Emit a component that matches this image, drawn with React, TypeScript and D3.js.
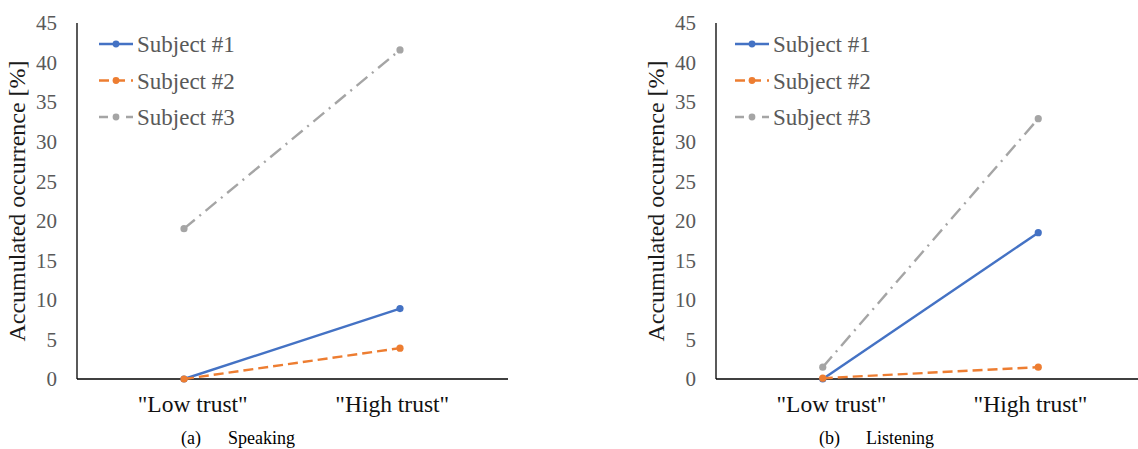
import React from "react";
import { scaleLinear, scalePoint, line } from "d3";

const categories = ['"Low trust"', '"High trust"'];
const seriesNames = ["Subject #1", "Subject #2", "Subject #3"];
const yTicks = [0, 5, 10, 15, 20, 25, 30, 35, 40, 45];

// accumulated occurrence [%], low trust / high trust
const speakingS1 = [0, 8.9];
const speakingS2 = [0, 3.9];
const speakingS3 = [19.0, 41.6];

const listeningS1 = [0, 18.5];
const listeningS2 = [0.1, 1.5];
const listeningS3 = [1.5, 32.9];

const colors = ["#4472C4", "#ED7D31", "#A5A5A5"];
const dashes = ["none", "10,5", "14,6,2,6"];

const txt = { fontFamily: "Liberation Serif" };

const Panel = ({ axisX, xEnd, series, legendX, caption, captionX }) => {
  const y = scaleLinear().domain([0, 45]).range([379, 23]);
  const x = scalePoint().domain(categories).range([axisX - 1, xEnd]).padding(0.5);
  // category labels sit a little closer together than the markers
  const xLabel = scalePoint().domain(categories).range([axisX, xEnd]).padding(0.58);

  const lineGen = line()
    .x((d, i) => x(categories[i]))
    .y((d) => y(d));

  return (
    <g>
      {/* y title */}
      <text
        style={txt}
        transform={`translate(${axisX - 52},${201}) rotate(-90)`}
        textAnchor="middle"
        fontSize={24}
        fill="#1a1a1a"
      >
        Accumulated occurrence [%]
      </text>

      {yTicks.map((t) => (
        <text
          key={t}
          style={txt}
          x={axisX - 20}
          y={y(t)}
          dy="0.35em"
          textAnchor="end"
          fontSize={21}
          fill="#595959"
        >
          {t}
        </text>
      ))}

      <line x1={axisX} x2={axisX} y1={23} y2={379} stroke="#000" strokeWidth={1.3} />
      <line x1={axisX} x2={xEnd} y1={379} y2={379} stroke="#000" strokeWidth={1.3} />

      {categories.map((c) => (
        <text key={c} style={txt} x={xLabel(c)} y={412} textAnchor="middle" fontSize={23.5} fill="#111">
          {c}
        </text>
      ))}

      {series.map((vals, i) => (
        <g key={i}>
          <path
            d={lineGen(vals)}
            fill="none"
            stroke={colors[i]}
            strokeWidth={2.4}
            strokeDasharray={dashes[i]}
          />
          {vals.map((v, j) => (
            <circle key={j} cx={x(categories[j])} cy={y(v)} r={3.6} fill={colors[i]} />
          ))}
        </g>
      ))}

      {seriesNames.map((name, i) => {
        const ly = 44 + i * 36.5;
        return (
          <g key={name}>
            <line
              x1={legendX}
              x2={legendX + 34}
              y1={ly}
              y2={ly}
              stroke={colors[i]}
              strokeWidth={2.4}
              strokeDasharray={i === 0 ? "none" : i === 1 ? "10,6" : "9,8,2,8"}
            />
            <circle cx={legendX + 17} cy={ly} r={3.4} fill={colors[i]} />
            <text style={txt} x={legendX + 38} y={ly} dy="0.35em" fontSize={23} fill="#595959">
              {name}
            </text>
          </g>
        );
      })}

      <text style={txt} x={captionX} y={444} fontSize={18} fill="#000">
        {caption[0]}
      </text>
      <text style={txt} x={captionX + 47} y={444} fontSize={18} fill="#000">
        {caption[1]}
      </text>
    </g>
  );
};

export default function App() {
  return (
    <svg
      width={1138}
      height={449}
      style={{ position: "absolute", left: 0, top: 0, background: "#fff" }}
    >
      <Panel
        axisX={77}
        xEnd={508}
        series={[speakingS1, speakingS2, speakingS3]}
        legendX={99}
        caption={["(a)", "Speaking"]}
        captionX={181}
      />
      <Panel
        axisX={716}
        xEnd={1146}
        series={[listeningS1, listeningS2, listeningS3]}
        legendX={735}
        caption={["(b)", "Listening"]}
        captionX={819}
      />
    </svg>
  );
}
